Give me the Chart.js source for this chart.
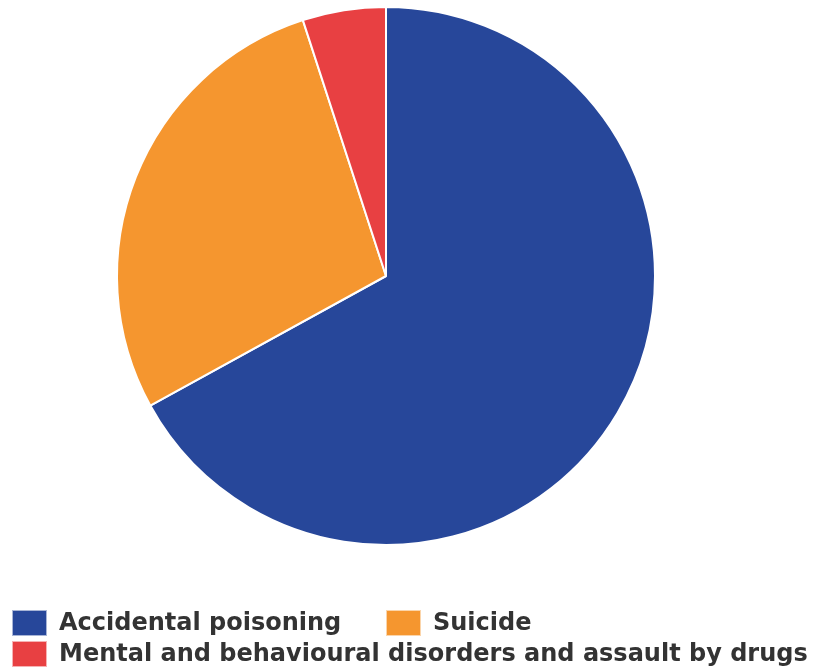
<!DOCTYPE html>
<html lang="en">
<head>
    <meta charset="UTF-8">
    <title>Drug-related deaths by cause</title>
    <script src="https://cdn.jsdelivr.net/npm/chart.js"></script>
    <style>
        html, body { margin: 0; padding: 0; background: #fff; }
        #wrap { width: 817px; height: 670px; }
    </style>
</head>
<body>
    <div id="wrap"><canvas id="pieChart" width="817" height="670"></canvas></div>

    <script>
        // Share of deaths by underlying cause (%)
        const categories = ['Accidental poisoning', 'Suicide', 'Mental and behavioural disorders and assault by drugs'];
        const shares = [67, 28, 5];
        const colours = ['#27479a', '#f5962f', '#e84042'];

        // Legend laid out in two columns at the bottom, like the original
        const legendSpots = [
            { x: 12, y: 610 },
            { x: 386, y: 610 },
            { x: 12, y: 641 }
        ];

        const bottomLegend = {
            id: 'bottomLegend',
            afterDraw(chart) {
                const ctx = chart.ctx;
                const ds = chart.data.datasets[0];
                ctx.save();
                ctx.font = 'bold 24px "DejaVu Sans"';
                ctx.textBaseline = 'middle';
                ctx.textAlign = 'left';
                chart.data.labels.forEach((label, i) => {
                    const spot = legendSpots[i];
                    ctx.fillStyle = ds.backgroundColor[i];
                    ctx.fillRect(spot.x, spot.y, 35, 26);
                    ctx.strokeStyle = 'rgba(255,255,255,0.6)';
                    ctx.lineWidth = 1;
                    ctx.strokeRect(spot.x + 0.5, spot.y + 0.5, 34, 25);
                    ctx.fillStyle = '#333333';
                    ctx.fillText(label, spot.x + 47, spot.y + 14);
                });
                ctx.restore();
            }
        };

        new Chart(document.getElementById('pieChart'), {
            type: 'pie',
            data: {
                labels: categories,
                datasets: [{
                    data: shares,
                    backgroundColor: colours,
                    borderColor: '#ffffff',
                    borderWidth: 2
                }]
            },
            options: {
                responsive: false,
                animation: false,
                radius: 269,
                layout: { padding: { left: 0, right: 45, top: 7, bottom: 125 } },
                plugins: {
                    legend: { display: false },
                    tooltip: { enabled: false }
                }
            },
            plugins: [bottomLegend]
        });
    </script>
</body>
</html>
